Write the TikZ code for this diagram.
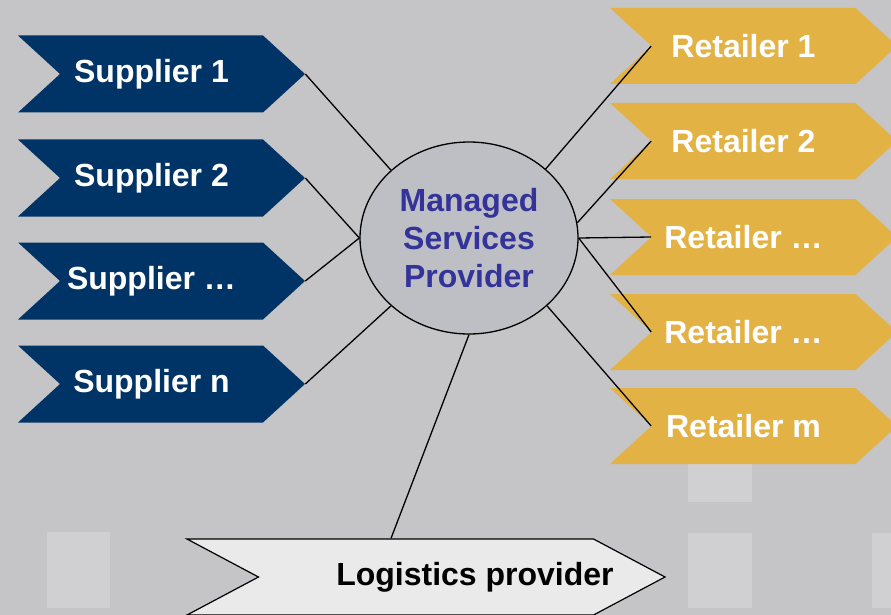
\documentclass[tikz,border=0pt]{standalone}
\usepackage{fontspec}
\setmainfont{Liberation Sans}
\usetikzlibrary{shapes.symbols,shapes.geometric}

\definecolor{bggray}{RGB}{197,197,199}
\definecolor{tilegray}{RGB}{208,208,210}
\definecolor{navy}{RGB}{0,51,102}
\definecolor{gold}{RGB}{227,178,69}
\definecolor{hubgray}{RGB}{190,191,196}
\definecolor{hubtext}{RGB}{51,51,153}
\definecolor{logfill}{RGB}{234,234,234}

\tikzset{
  big/.style={font=\bfseries\fontsize{32}{38}\selectfont},
  supplier/.style={big, signal, signal to=east, signal from=west, fill=navy, text=white,
    minimum width=287pt, minimum height=77pt, signal pointer angle=85, inner sep=0pt},
  retailer/.style={supplier, fill=gold, minimum height=76pt},
  link/.style={draw=black, line width=1.3pt}
}

\begin{document}
\begin{tikzpicture}[x=1pt, y=-1pt]
  \fill [bggray] (0,0) rectangle (891,615);
  \useasboundingbox (0,0) rectangle (891,615);

  % faint tiles in the background
  \fill [tilegray] (47,532) rectangle (110,608);
  \fill [tilegray] (688,440) rectangle (752,502);
  \fill [tilegray] (688,533) rectangle (752,608);
  \fill [tilegray] (872,533) rectangle (891,608);

  \node (S1) [supplier] at (161.5,74) {Supplier 1\hspace*{20pt}};
  \node (S2) [supplier] at (161.5,178) {Supplier 2\hspace*{20pt}};
  \node (S3) [supplier] at (161.5,281) {Supplier …\hspace*{20pt}};
  \node (S4) [supplier] at (161.5,384) {Supplier n\hspace*{20pt}};

  \node (R1) [retailer] at (753.5,46) {Retailer 1\hspace*{20pt}};
  \node (R2) [retailer] at (753.5,141) {Retailer 2\hspace*{20pt}};
  \node (R3) [retailer] at (753.5,237) {Retailer …\hspace*{20pt}};
  \node (R4) [retailer] at (753.5,332) {Retailer …\hspace*{20pt}};
  \node (R5) [retailer] at (753.5,426) {Retailer m\hspace*{20pt}};

  \node (L) [signal, signal to=east, signal from=west, fill=logfill, draw=black,
    line width=1.2pt, minimum width=478pt, minimum height=76pt,
    signal pointer angle=56, inner sep=0pt,
    label={[big, xshift=49pt]center:Logistics provider}] at (426,577) {};

  \node (M) [ellipse, draw=black, line width=1.3pt, fill=hubgray, text=hubtext, big,
    align=center, minimum width=218pt, minimum height=192pt, inner sep=0pt] at (469,238)
    {Managed\\Services\\Provider};

  \path [link]
  (S1.east) -- (M.139)
  (S2.east) -- (M.west)
  (S3.east) -- (M.west)
  (S4.east) -- (M.221)
  (R1.west) -- (M.42)
  (R2.west) -- (M.8)
  (R3.west) -- (M.east)
  (R4.west) -- (M.east)
  (R5.west) -- (M.-41)
  ([xshift=-35pt]L.north) -- (M.south);
\end{tikzpicture}
\end{document}
